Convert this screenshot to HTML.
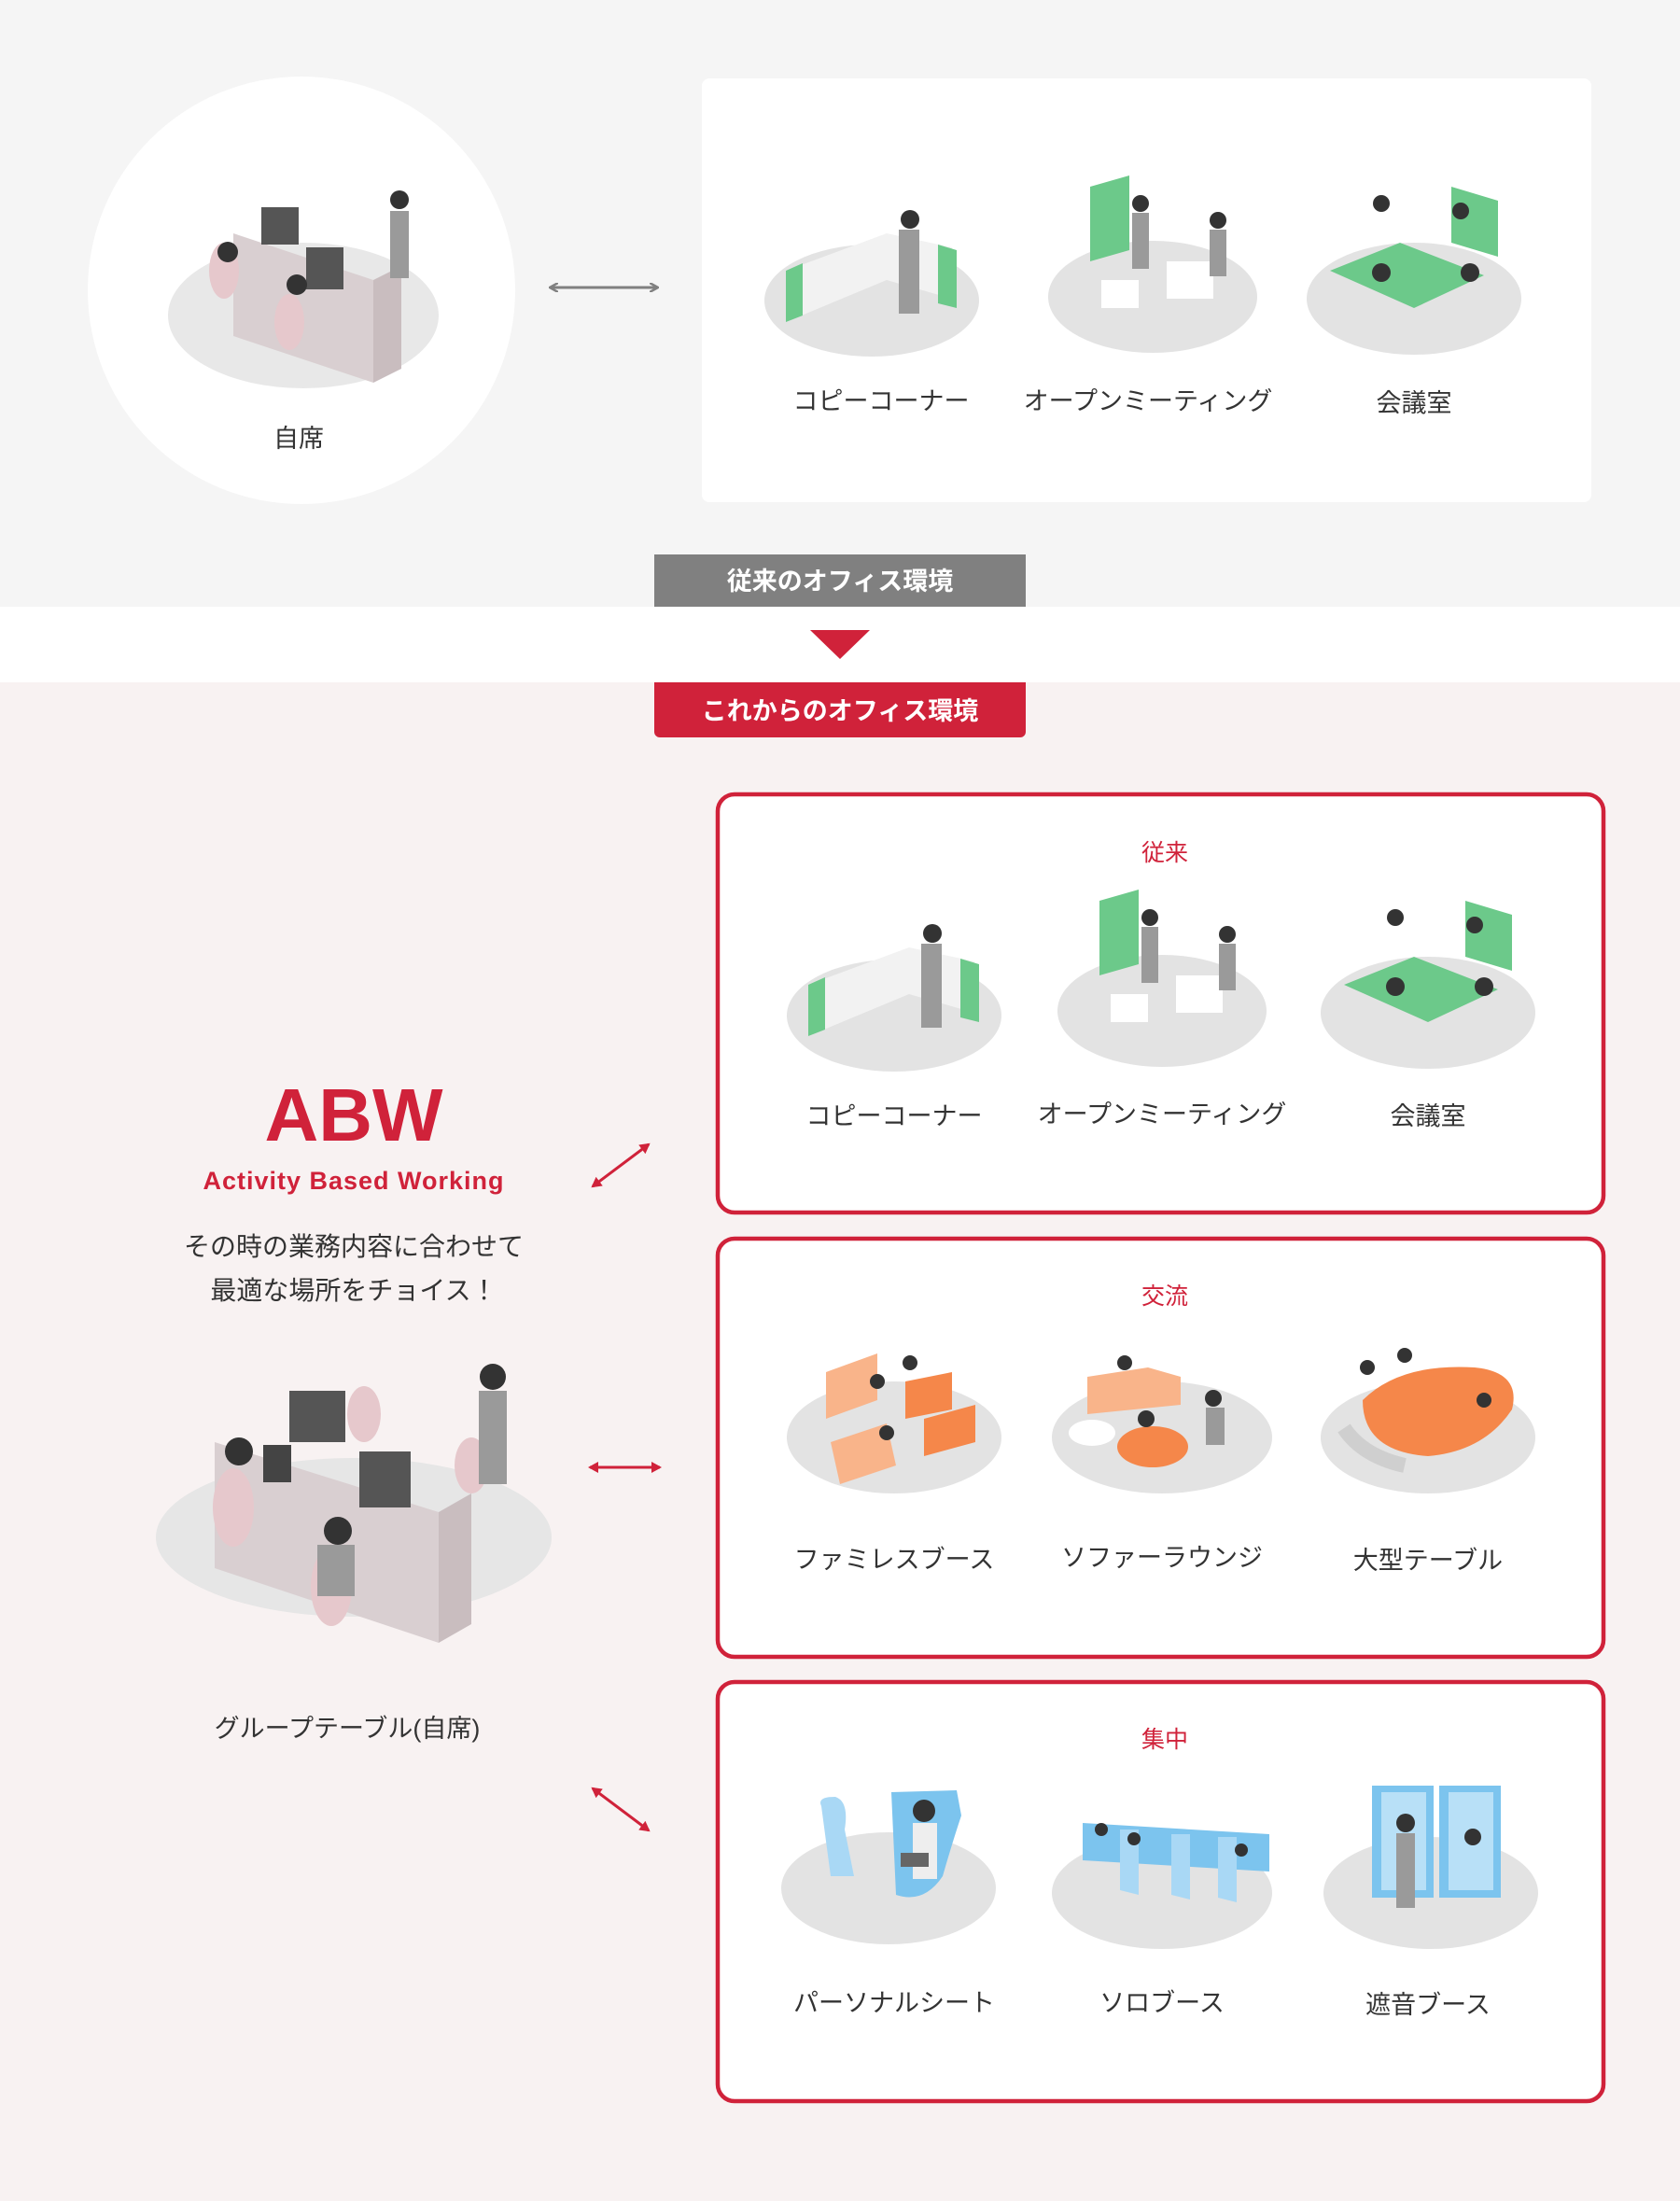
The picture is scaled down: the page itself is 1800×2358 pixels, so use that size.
<!DOCTYPE html>
<html><head><meta charset="utf-8"><style>
html,body{margin:0;padding:0;background:#f5f5f5}
svg{display:block}
text{font-family:"Liberation Sans","Noto Sans CJK JP",sans-serif}
</style></head><body>
<svg width="1800" height="2358" viewBox="0 0 1800 2358" xmlns="http://www.w3.org/2000/svg">
<defs>
<marker id="ag" markerWidth="10" markerHeight="10" refX="8" refY="5" orient="auto-start-reverse" markerUnits="userSpaceOnUse"><path d="M0,0 L9,5 L0,10" fill="none" stroke="#808080" stroke-width="2.5"/></marker>
<marker id="ar" markerWidth="12" markerHeight="12" refX="9" refY="6" orient="auto-start-reverse" markerUnits="userSpaceOnUse"><path d="M0,0 L11,6 L0,12 Z" fill="#d0223a"/></marker>
</defs>
<rect x="0" y="0" width="1800" height="650" fill="#f5f5f5"/>
<rect x="0" y="650" width="1800" height="81" fill="#ffffff"/>
<rect x="0" y="731" width="1800" height="1627" fill="#f8f2f2"/>

<!-- top left circle -->
<circle cx="323" cy="311" r="229" fill="#ffffff"/>
<ellipse cx="325" cy="338" rx="145" ry="78" fill="#e8e8e8"/>
<g>
<polygon points="250,250 400,300 400,410 250,360" fill="#d9cfd1"/>
<polygon points="400,300 430,285 430,395 400,410" fill="#c9bdbf"/>
<rect x="280" y="222" width="40" height="40" fill="#555"/>
<rect x="328" y="265" width="40" height="45" fill="#555"/>
<ellipse cx="240" cy="290" rx="16" ry="30" fill="#e6c8cc"/>
<ellipse cx="310" cy="345" rx="16" ry="30" fill="#e6c8cc"/>
<circle cx="244" cy="270" r="11" fill="#333"/>
<circle cx="318" cy="305" r="11" fill="#333"/>
<circle cx="428" cy="214" r="10" fill="#333"/>
<rect x="418" y="226" width="20" height="72" fill="#9a9a9a"/>
</g>
<text x="320" y="479" font-size="27" fill="#333" text-anchor="middle">自席</text>

<line x1="590" y1="308" x2="704" y2="308" stroke="#808080" stroke-width="3" marker-start="url(#ag)" marker-end="url(#ag)"/>

<!-- top white box -->
<rect x="752" y="84" width="953" height="454" rx="8" fill="#ffffff"/>
<g>
<ellipse cx="934" cy="322" rx="115" ry="60" fill="#e3e3e3"/>
<polygon points="842,290 950,250 1020,265 1020,320 950,300 842,345" fill="#f2f2f2"/>
<polygon points="842,290 860,282 860,338 842,345" fill="#6cc98a"/>
<polygon points="1005,262 1025,268 1025,330 1005,325" fill="#6cc98a"/>
<circle cx="975" cy="235" r="10" fill="#333"/><rect x="963" y="246" width="22" height="90" fill="#9a9a9a"/>

<ellipse cx="1235" cy="318" rx="112" ry="60" fill="#e3e3e3"/>
<polygon points="1168,200 1210,188 1210,268 1168,280" fill="#6cc98a"/>
<rect x="1180" y="300" width="40" height="30" fill="#fff"/><rect x="1250" y="280" width="50" height="40" fill="#fff"/>
<circle cx="1222" cy="218" r="9" fill="#333"/><rect x="1213" y="228" width="18" height="60" fill="#9a9a9a"/>
<circle cx="1305" cy="236" r="9" fill="#333"/><rect x="1296" y="246" width="18" height="50" fill="#9a9a9a"/>

<ellipse cx="1515" cy="320" rx="115" ry="60" fill="#e3e3e3"/>
<polygon points="1425,290 1500,260 1590,295 1515,330" fill="#6cc98a"/>
<polygon points="1555,200 1605,215 1605,275 1555,260" fill="#6cc98a"/>
<circle cx="1480" cy="218" r="9" fill="#333"/><circle cx="1565" cy="226" r="9" fill="#333"/>
<circle cx="1480" cy="292" r="10" fill="#333"/><circle cx="1575" cy="292" r="10" fill="#333"/>
</g>
<text x="944" y="439" font-size="27" fill="#333" text-anchor="middle">コピーコーナー</text>
<text x="1230" y="439" font-size="27" fill="#333" text-anchor="middle">オープンミーティング</text>
<text x="1515" y="441" font-size="27" fill="#333" text-anchor="middle">会議室</text>

<!-- labels -->
<path d="M701,594 H1099 V650 H701 Z" fill="#808080"/>
<path d="M701,594 Q701,594 709,594" fill="none"/>
<text x="900" y="632" font-size="27" font-weight="bold" fill="#fff" text-anchor="middle">従来のオフィス環境</text>
<polygon points="868,675 932,675 900,706" fill="#d0223a"/>
<rect x="701" y="731" width="398" height="59" rx="6" fill="#d0223a"/>
<rect x="701" y="731" width="398" height="10" fill="#d0223a"/>
<text x="900" y="771" font-size="27" font-weight="bold" fill="#fff" text-anchor="middle">これからのオフィス環境</text>

<!-- ABW -->
<text x="379" y="1222" font-size="80" font-weight="bold" fill="#d0223a" text-anchor="middle">ABW</text>
<text x="379" y="1274" font-size="27" font-weight="bold" fill="#d0223a" text-anchor="middle" letter-spacing="1">Activity Based Working</text>
<text x="379" y="1345" font-size="28" fill="#333" text-anchor="middle">その時の業務内容に合わせて</text>
<text x="379" y="1392" font-size="28" fill="#333" text-anchor="middle">最適な場所をチョイス！</text>

<!-- group table -->
<ellipse cx="379" cy="1647" rx="212" ry="85" fill="#e6e6e6"/>
<polygon points="230,1545 470,1620 470,1760 230,1680" fill="#d9cfd1"/>
<polygon points="470,1620 505,1600 505,1740 470,1760" fill="#c9bdbf"/>
<rect x="310" y="1490" width="60" height="55" fill="#555"/>
<rect x="385" y="1555" width="55" height="60" fill="#555"/>
<rect x="282" y="1548" width="30" height="40" fill="#444"/>
<ellipse cx="250" cy="1615" rx="22" ry="42" fill="#e6c8cc"/>
<ellipse cx="355" cy="1700" rx="22" ry="42" fill="#e6c8cc"/>
<ellipse cx="390" cy="1515" rx="18" ry="30" fill="#e6c8cc"/>
<ellipse cx="505" cy="1570" rx="18" ry="30" fill="#e6c8cc"/>
<circle cx="256" cy="1555" r="15" fill="#333"/>
<circle cx="362" cy="1640" r="15" fill="#333"/>
<circle cx="528" cy="1475" r="14" fill="#333"/>
<rect x="513" y="1490" width="30" height="100" fill="#9a9a9a"/>
<rect x="340" y="1655" width="40" height="55" fill="#9a9a9a"/>
<text x="372" y="1861" font-size="27" fill="#333" text-anchor="middle">グループテーブル(自席)</text>

<!-- red arrows -->
<line x1="635" y1="1271" x2="695" y2="1226" stroke="#d0223a" stroke-width="3" marker-start="url(#ar)" marker-end="url(#ar)"/>
<line x1="632" y1="1572" x2="707" y2="1572" stroke="#d0223a" stroke-width="3" marker-start="url(#ar)" marker-end="url(#ar)"/>
<line x1="635" y1="1916" x2="695" y2="1961" stroke="#d0223a" stroke-width="3" marker-start="url(#ar)" marker-end="url(#ar)"/>

<!-- red boxes -->
<rect x="769" y="851" width="949" height="448" rx="18" fill="#fff" stroke="#d0223a" stroke-width="4.5"/>
<rect x="769" y="1327" width="949" height="448" rx="18" fill="#fff" stroke="#d0223a" stroke-width="4.5"/>
<rect x="769" y="1802" width="949" height="449" rx="18" fill="#fff" stroke="#d0223a" stroke-width="4.5"/>
<text x="1248" y="922" font-size="25" fill="#d0223a" text-anchor="middle">従来</text>
<text x="1248" y="1397" font-size="25" fill="#d0223a" text-anchor="middle">交流</text>
<text x="1248" y="1872" font-size="25" fill="#d0223a" text-anchor="middle">集中</text>

<!-- box1 illustrations -->
<g>
<ellipse cx="958" cy="1088" rx="115" ry="60" fill="#e3e3e3"/>
<polygon points="866,1055 974,1015 1044,1030 1044,1085 974,1065 866,1110" fill="#f2f2f2"/>
<polygon points="866,1055 884,1047 884,1103 866,1110" fill="#6cc98a"/>
<polygon points="1029,1027 1049,1033 1049,1095 1029,1090" fill="#6cc98a"/>
<circle cx="999" cy="1000" r="10" fill="#333"/><rect x="987" y="1011" width="22" height="90" fill="#9a9a9a"/>

<ellipse cx="1245" cy="1083" rx="112" ry="60" fill="#e3e3e3"/>
<polygon points="1178,965 1220,953 1220,1033 1178,1045" fill="#6cc98a"/>
<rect x="1190" y="1065" width="40" height="30" fill="#fff"/><rect x="1260" y="1045" width="50" height="40" fill="#fff"/>
<circle cx="1232" cy="983" r="9" fill="#333"/><rect x="1223" y="993" width="18" height="60" fill="#9a9a9a"/>
<circle cx="1315" cy="1001" r="9" fill="#333"/><rect x="1306" y="1011" width="18" height="50" fill="#9a9a9a"/>

<ellipse cx="1530" cy="1085" rx="115" ry="60" fill="#e3e3e3"/>
<polygon points="1440,1055 1515,1025 1605,1060 1530,1095" fill="#6cc98a"/>
<polygon points="1570,965 1620,980 1620,1040 1570,1025" fill="#6cc98a"/>
<circle cx="1495" cy="983" r="9" fill="#333"/><circle cx="1580" cy="991" r="9" fill="#333"/>
<circle cx="1495" cy="1057" r="10" fill="#333"/><circle cx="1590" cy="1057" r="10" fill="#333"/>
</g>
<text x="958" y="1205" font-size="27" fill="#333" text-anchor="middle">コピーコーナー</text>
<text x="1245" y="1203" font-size="27" fill="#333" text-anchor="middle">オープンミーティング</text>
<text x="1530" y="1205" font-size="27" fill="#333" text-anchor="middle">会議室</text>

<!-- box2 illustrations -->
<g>
<ellipse cx="958" cy="1540" rx="115" ry="60" fill="#e3e3e3"/>
<polygon points="885,1470 940,1450 940,1500 885,1520" fill="#f9b48a"/>
<polygon points="890,1545 950,1525 960,1570 900,1590" fill="#f9b48a"/>
<polygon points="970,1480 1020,1470 1020,1510 970,1520" fill="#f5874a"/>
<polygon points="990,1520 1045,1505 1045,1545 990,1560" fill="#f5874a"/>
<circle cx="940" cy="1480" r="8" fill="#333"/><circle cx="975" cy="1460" r="8" fill="#333"/><circle cx="950" cy="1535" r="8" fill="#333"/>

<ellipse cx="1245" cy="1540" rx="118" ry="60" fill="#e3e3e3"/>
<polygon points="1165,1475 1230,1465 1265,1475 1265,1505 1165,1515" fill="#f9b48a"/>
<ellipse cx="1235" cy="1550" rx="38" ry="22" fill="#f5874a"/>
<ellipse cx="1170" cy="1535" rx="25" ry="14" fill="#fff"/>
<circle cx="1205" cy="1460" r="8" fill="#333"/><circle cx="1228" cy="1520" r="9" fill="#333"/><circle cx="1300" cy="1498" r="9" fill="#333"/>
<rect x="1292" y="1508" width="20" height="40" fill="#9a9a9a"/>

<ellipse cx="1530" cy="1540" rx="115" ry="60" fill="#e3e3e3"/>
<path d="M1460,1500 Q1500,1460 1580,1465 Q1630,1470 1620,1510 Q1590,1555 1530,1560 Q1460,1555 1460,1500 Z" fill="#f5874a"/>
<path d="M1440,1530 Q1460,1560 1505,1570" fill="none" stroke="#cfcfcf" stroke-width="16"/>
<circle cx="1465" cy="1465" r="8" fill="#333"/><circle cx="1505" cy="1452" r="8" fill="#333"/><circle cx="1590" cy="1500" r="8" fill="#333"/>
</g>
<text x="958" y="1680" font-size="27" fill="#333" text-anchor="middle">ファミレスブース</text>
<text x="1245" y="1678" font-size="27" fill="#333" text-anchor="middle">ソファーラウンジ</text>
<text x="1530" y="1681" font-size="27" fill="#333" text-anchor="middle">大型テーブル</text>

<!-- box3 illustrations -->
<g>
<ellipse cx="952" cy="2023" rx="115" ry="60" fill="#e3e3e3"/>
<path d="M880,1935 Q875,1925 895,1925 Q910,1930 905,1960 L915,2010 L890,2010 Z" fill="#a9d8f5"/>
<path d="M955,1920 L1025,1918 L1030,1945 Q1020,1975 1010,2010 Q990,2040 960,2030 Z" fill="#7cc4ee"/>
<circle cx="990" cy="1940" r="12" fill="#333"/><rect x="978" y="1953" width="26" height="60" fill="#eee"/>
<rect x="965" y="1985" width="30" height="15" fill="#666"/>

<ellipse cx="1245" cy="2028" rx="118" ry="60" fill="#e3e3e3"/>
<polygon points="1160,1953 1360,1965 1360,2005 1160,1993" fill="#7cc4ee"/>
<polygon points="1200,1960 1220,1960 1220,2030 1200,2025" fill="#a9d8f5"/>
<polygon points="1255,1965 1275,1965 1275,2035 1255,2030" fill="#a9d8f5"/>
<polygon points="1305,1968 1325,1968 1325,2038 1305,2033" fill="#a9d8f5"/>
<circle cx="1180" cy="1960" r="7" fill="#333"/><circle cx="1215" cy="1970" r="7" fill="#333"/><circle cx="1330" cy="1982" r="7" fill="#333"/>

<ellipse cx="1533" cy="2028" rx="115" ry="60" fill="#e3e3e3"/>
<rect x="1470" y="1913" width="66" height="120" fill="#7cc4ee"/>
<rect x="1480" y="1920" width="48" height="105" fill="#b8e0f7"/>
<rect x="1542" y="1913" width="66" height="120" fill="#7cc4ee"/>
<rect x="1552" y="1920" width="48" height="105" fill="#b8e0f7"/>
<circle cx="1506" cy="1953" r="10" fill="#333"/><rect x="1496" y="1964" width="20" height="80" fill="#9a9a9a"/>
<circle cx="1578" cy="1968" r="9" fill="#333"/>
</g>
<text x="958" y="2155" font-size="27" fill="#333" text-anchor="middle">パーソナルシート</text>
<text x="1245" y="2155" font-size="27" fill="#333" text-anchor="middle">ソロブース</text>
<text x="1530" y="2157" font-size="27" fill="#333" text-anchor="middle">遮音ブース</text>
</svg>
</body></html>
